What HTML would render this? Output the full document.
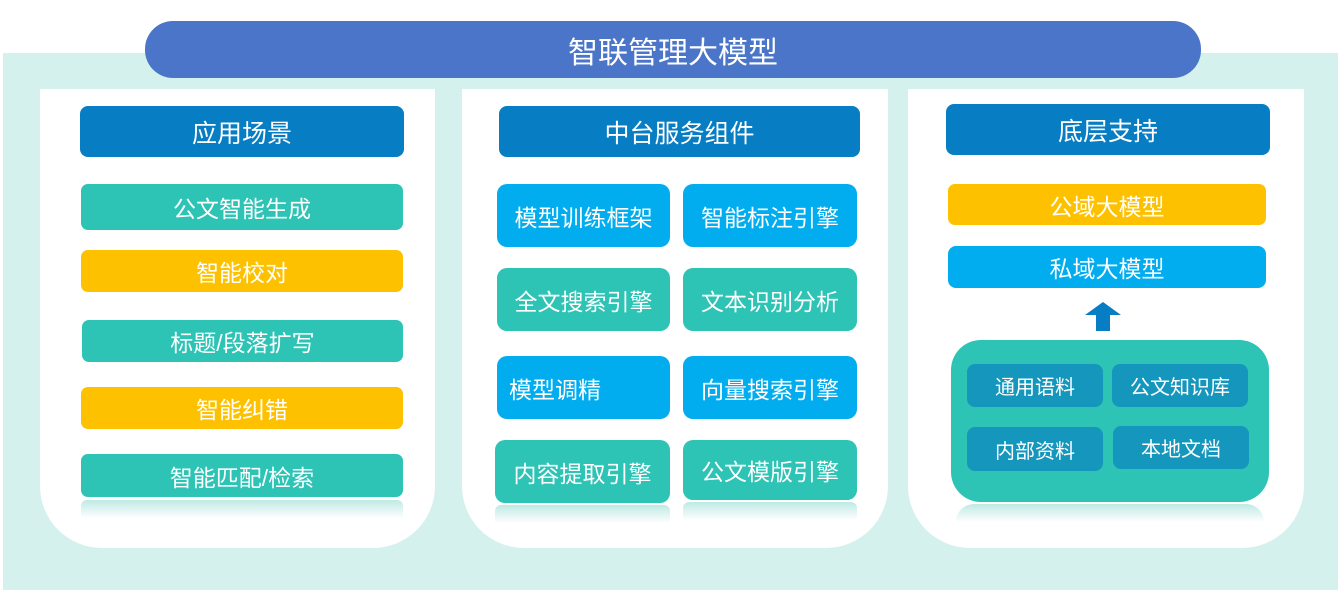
<!DOCTYPE html>
<html><head><meta charset="utf-8"><style>
*{margin:0;padding:0;box-sizing:border-box}
body{width:1341px;height:612px;background:#fff;position:relative;overflow:hidden;font-family:"Liberation Sans","Noto Sans CJK SC",sans-serif;color:#fff}
.a{position:absolute;display:flex;align-items:center;justify-content:center;white-space:nowrap}
.bg{position:absolute;left:3px;top:53px;width:1335px;height:537px;background:#d4f1ee}
.pn{position:absolute;top:89px;height:459px;background:#fff;border-radius:0 0 62px 62px}
.h{background:#077dc3;border-radius:8px;font-size:25px}
.t{background:#2dc3b5;border-radius:7px}
.y{background:#fdc100;border-radius:7px}
.b{background:#01adef;border-radius:8px}
.d{background:#1597bd;border-radius:8px;font-size:20px}
.li{font-size:23px}
.m{font-size:23px;border-radius:10px}
.r{position:absolute;height:18px;background:linear-gradient(#bfe9e4,rgba(255,255,255,0));border-radius:6px 6px 0 0}
</style></head><body>
<div class="bg"></div>
<div class="a" style="left:145px;top:21px;width:1056px;height:57px;background:#4a75c9;border-radius:28px;font-size:30px">智联管理大模型</div>
<div class="pn" style="left:40px;width:395px"></div>
<div class="pn" style="left:462px;width:426px"></div>
<div class="pn" style="left:908px;width:396px"></div>

<div class="a h" style="left:80px;top:106px;width:324px;height:51px">应用场景</div>
<div class="a t li" style="left:81px;top:184px;width:322px;height:46px">公文智能生成</div>
<div class="a y li" style="left:81px;top:250px;width:322px;height:42px">智能校对</div>
<div class="a t li" style="left:82px;top:320px;width:321px;height:42px">标题/段落扩写</div>
<div class="a y li" style="left:81px;top:387px;width:322px;height:42px">智能纠错</div>
<div class="a t li" style="left:81px;top:454px;width:322px;height:43px">智能匹配/检索</div>
<div class="r" style="left:81px;top:500px;width:322px"></div>

<div class="a h" style="left:499px;top:106px;width:361px;height:51px">中台服务组件</div>
<div class="a b m" style="left:497px;top:184px;width:173px;height:63px">模型训练框架</div>
<div class="a b m" style="left:683px;top:184px;width:174px;height:63px">智能标注引擎</div>
<div class="a t m" style="left:497px;top:268px;width:173px;height:63px">全文搜索引擎</div>
<div class="a t m" style="left:683px;top:268px;width:174px;height:63px">文本识别分析</div>
<div class="a b m" style="left:497px;top:356px;width:173px;height:63px;justify-content:flex-start;padding-left:12px">模型调精</div>
<div class="a b m" style="left:683px;top:356px;width:174px;height:63px">向量搜索引擎</div>
<div class="a t m" style="left:495px;top:440px;width:175px;height:63px">内容提取引擎</div>
<div class="a t m" style="left:683px;top:440px;width:174px;height:60px">公文模版引擎</div>
<div class="r" style="left:495px;top:505px;width:175px"></div>
<div class="r" style="left:683px;top:502px;width:174px"></div>

<div class="a h" style="left:946px;top:104px;width:324px;height:51px">底层支持</div>
<div class="a y li" style="left:948px;top:184px;width:318px;height:41px">公域大模型</div>
<div class="a b li" style="left:948px;top:246px;width:318px;height:42px">私域大模型</div>
<svg style="position:absolute;left:1084px;top:302px" width="38" height="29"><polygon points="19,0 37,13 26,13 26,29 12,29 12,13 1,13" fill="#077dc3"/></svg>
<div style="position:absolute;left:951px;top:340px;width:318px;height:162px;background:#2dc3b5;border-radius:30px"></div>
<div class="r" style="left:956px;top:504px;width:308px;border-radius:30px 30px 0 0"></div>
<div class="a d" style="left:967px;top:364px;width:136px;height:43px">通用语料</div>
<div class="a d" style="left:1112px;top:364px;width:136px;height:43px">公文知识库</div>
<div class="a d" style="left:967px;top:427px;width:136px;height:44px">内部资料</div>
<div class="a d" style="left:1113px;top:426px;width:136px;height:43px">本地文档</div>
</body></html>
